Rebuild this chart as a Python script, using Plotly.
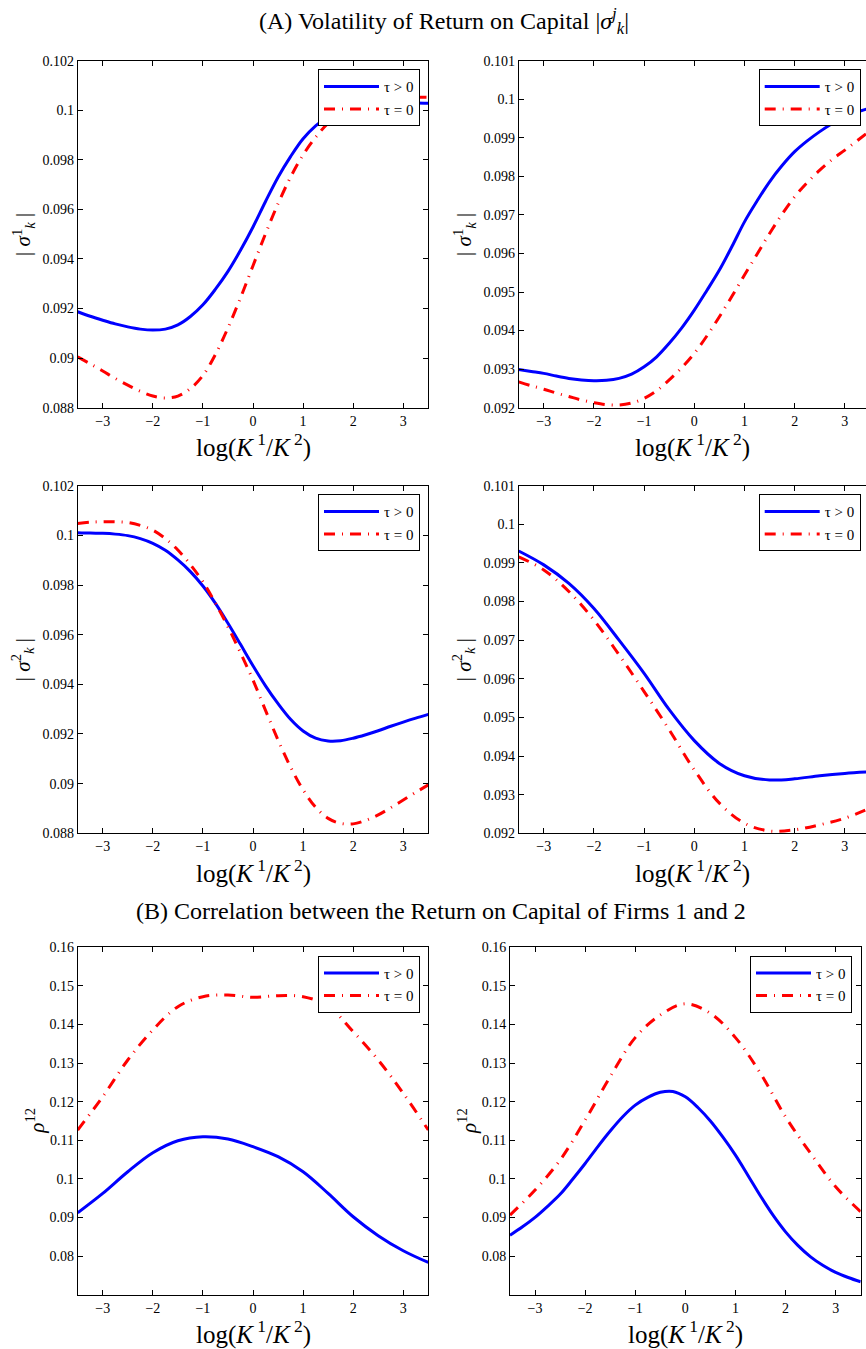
import plotly.graph_objects as go

# ---------------- data ----------------
x_half = [-3.5, -3.0, -2.5, -2.0, -1.5, -1.0, -0.5, 0.0, 0.5, 1.0, 1.5, 2.0, 2.5, 3.0, 3.5]
x_quarter = [-3.5, -3.25, -3.0, -2.75, -2.5, -2.25, -2.0, -1.75, -1.5, -1.25, -1.0, -0.75, -0.5, -0.25,
             0.0, 0.25, 0.5, 0.75, 1.0, 1.25, 1.5, 1.75, 2.0, 2.25, 2.5, 2.75, 3.0, 3.25, 3.5]

# Panel A, left: |sigma_k^1|  (quarter grid)
sig1_left_pos = [0.09187, 0.09169, 0.09153, 0.09138, 0.09126, 0.09117, 0.09113, 0.09117, 0.09134,
                 0.09168, 0.09215, 0.09278, 0.09350, 0.09435, 0.09529, 0.09632, 0.09730, 0.09813,
                 0.09885, 0.09937, 0.09975, 0.09999, 0.10013, 0.10022, 0.10027, 0.10028, 0.10029,
                 0.10029, 0.10028]
sig1_left_zero = [0.09005, 0.08977, 0.08948, 0.08918, 0.08891, 0.08866, 0.08847, 0.08839, 0.08847,
                  0.08877, 0.08930, 0.09015, 0.09122, 0.09243, 0.09373, 0.09502, 0.09623, 0.09730,
                  0.09820, 0.09891, 0.09948, 0.09988, 0.10015, 0.10032, 0.10043, 0.10048, 0.10051,
                  0.10052, 0.10052]
# Panel A, right: |sigma_k^1|  (quarter grid)
sig1_right_pos = [0.09299, 0.09294, 0.09289, 0.09282, 0.09276, 0.09272, 0.09270, 0.09271, 0.09276,
                  0.09287, 0.09306, 0.09332, 0.09367, 0.09407, 0.09453, 0.09504, 0.09557, 0.09618,
                  0.09682, 0.09736, 0.09786, 0.09828, 0.09864, 0.09892, 0.09916, 0.09937, 0.09955,
                  0.09967, 0.09977]
sig1_right_zero = [0.09267, 0.09257, 0.09248, 0.09238, 0.09229, 0.09220, 0.09213, 0.09208, 0.09207,
                   0.09212, 0.09224, 0.09244, 0.09272, 0.09304, 0.09341, 0.09386, 0.09436, 0.09489,
                   0.09544, 0.09598, 0.09652, 0.09702, 0.09747, 0.09784, 0.09816, 0.09844, 0.09868,
                   0.09893, 0.09918]
# Panel A, left: |sigma_k^2|  (quarter grid)
sig2_left_pos = [0.10011, 0.10009, 0.10008, 0.10005, 0.09999, 0.09987, 0.09968, 0.09940, 0.09901,
                 0.09854, 0.09796, 0.09726, 0.09646, 0.09561, 0.09475, 0.09394, 0.09322, 0.09259,
                 0.09212, 0.09183, 0.09172, 0.09173, 0.09183, 0.09197, 0.09213, 0.09231, 0.09248,
                 0.09264, 0.09279]
sig2_left_zero = [0.10048, 0.10053, 0.10055, 0.10055, 0.10052, 0.10040, 0.10021, 0.09987, 0.09941,
                  0.09882, 0.09813, 0.09727, 0.09632, 0.09527, 0.09417, 0.09295, 0.09176, 0.09067,
                  0.08975, 0.08905, 0.08860, 0.08840, 0.08838, 0.08852, 0.08874, 0.08903, 0.08934,
                  0.08965, 0.08995]
# Panel A, right: |sigma_k^2|  (half grid)
sig2_right_pos = [0.09931, 0.09895, 0.09847, 0.09782, 0.09700, 0.09614, 0.09520, 0.09440,
                  0.09381, 0.09349, 0.09338, 0.09341, 0.09349, 0.09355, 0.09359]
sig2_right_zero = [0.09916, 0.09882, 0.09826, 0.09752, 0.09662, 0.09567, 0.09468, 0.09364,
                   0.09278, 0.09226, 0.09206, 0.09209, 0.09222, 0.09239, 0.09265]
# Panel B, left: rho^12  (half grid)
rho_left_pos = [0.09123, 0.09624, 0.10186, 0.10678, 0.10989, 0.11093, 0.11033, 0.10834,
                0.10575, 0.10186, 0.09624, 0.09020, 0.08530, 0.08139, 0.07836]
rho_left_zero = [0.11266, 0.12130, 0.13080, 0.13858, 0.14462, 0.14721, 0.14765, 0.14704,
                 0.14748, 0.14721, 0.14480, 0.13814, 0.13080, 0.12216, 0.11266]
# Panel B, right: rho^12  (tau>0 on quarter grid, tau=0 on half grid)
rho_right_pos = [0.08542, 0.08760, 0.09004, 0.09290, 0.09600, 0.09990, 0.10399, 0.10830, 0.11240,
                 0.11610, 0.11910, 0.12110, 0.12243, 0.12265, 0.12126, 0.11850, 0.11500, 0.11080,
                 0.10615, 0.10090, 0.09556, 0.09060, 0.08628, 0.08270, 0.07980, 0.07755, 0.07578,
                 0.07445, 0.07333]
rho_right_zero = [0.09063, 0.09711, 0.10488, 0.11525, 0.12648, 0.13660, 0.14246, 0.14536,
                  0.14289, 0.13660, 0.12734, 0.11608, 0.10661, 0.09797, 0.09149]

series_names = ["τ > 0", "τ = 0"]

x_tickvals = [-3, -2, -1, 0, 1, 2, 3]
x_ticktext = ["−3", "−2", "−1", "0", "1", "2", "3"]

yA1_tickvals = [0.088, 0.090, 0.092, 0.094, 0.096, 0.098, 0.100, 0.102]
yA1_ticktext = ["0.088", "0.09", "0.092", "0.094", "0.096", "0.098", "0.1", "0.102"]
yA2_tickvals = [0.092, 0.093, 0.094, 0.095, 0.096, 0.097, 0.098, 0.099, 0.100, 0.101]
yA2_ticktext = ["0.092", "0.093", "0.094", "0.095", "0.096", "0.097", "0.098", "0.099", "0.1", "0.101"]
yB_tickvals = [0.08, 0.09, 0.10, 0.11, 0.12, 0.13, 0.14, 0.15, 0.16]
yB_ticktext = ["0.08", "0.09", "0.1", "0.11", "0.12", "0.13", "0.14", "0.15", "0.16"]

title_A = "(A) Volatility of Return on Capital |<i>σ</i><sup><i>j</i></sup><sub><i>k</i></sub>|"
title_B = "(B) Correlation between the Return on Capital of Firms 1 and 2"
x_title = "log(<i>K</i><sup> 1</sup>/<i>K</i><sup> 2</sup>)"
y_titles = ["| <i>σ</i><sup>1</sup><sub><i>k</i></sub> |", "| <i>σ</i><sup>1</sup><sub><i>k</i></sub> |",
            "| <i>σ</i><sup>2</sup><sub><i>k</i></sub> |", "| <i>σ</i><sup>2</sup><sub><i>k</i></sub> |",
            "<i>ρ</i><sup>12</sup>", "<i>ρ</i><sup>12</sup>"]

# ---------------- layout geometry ----------------
W, H = 866, 1349
FONT = "Liberation Serif"

def fx(px):
    return px / W

def fy(px):
    return 1 - px / H

panels = [
    dict(x=(77.7, 428.3), y=(60.7, 407.7), xmax=3.5, yr=[0.088, 0.102], tv=yA1_tickvals, tt=yA1_ticktext,
         xp=x_quarter, pos=sig1_left_pos, xz=x_quarter, zero=sig1_left_zero,
         leg=(420, 69.3), ysh=-55, mirror_y=True),
    dict(x=(518.7, 866.0), y=(60.7, 407.7), xmax=3.422, yr=[0.092, 0.101], tv=yA2_tickvals, tt=yA2_ticktext,
         xp=x_quarter, pos=sig1_right_pos, xz=x_quarter, zero=sig1_right_zero,
         leg=(860.7, 69.3), ysh=-55, mirror_y=False),
    dict(x=(77.7, 428.3), y=(485.7, 833.3), xmax=3.5, yr=[0.088, 0.102], tv=yA1_tickvals, tt=yA1_ticktext,
         xp=x_quarter, pos=sig2_left_pos, xz=x_quarter, zero=sig2_left_zero,
         leg=(420, 494.3), ysh=-55, mirror_y=True),
    dict(x=(518.7, 866.0), y=(485.7, 833.3), xmax=3.422, yr=[0.092, 0.101], tv=yA2_tickvals, tt=yA2_ticktext,
         xp=x_half, pos=sig2_right_pos, xz=x_half, zero=sig2_right_zero,
         leg=(860.7, 494.3), ysh=-55, mirror_y=False),
    dict(x=(77.7, 428.3), y=(947.3, 1294.7), xmax=3.5, yr=[0.07, 0.16], tv=yB_tickvals, tt=yB_ticktext,
         xp=x_half, pos=rho_left_pos, xz=x_half, zero=rho_left_zero,
         leg=(420, 955.7), ysh=-43, mirror_y=True),
    dict(x=(510.0, 860.7), y=(947.3, 1294.7), xmax=3.5, yr=[0.07, 0.16], tv=yB_tickvals, tt=yB_ticktext,
         xp=x_quarter, pos=rho_right_pos, xz=x_half, zero=rho_right_zero,
         leg=(852.0, 955.7), ysh=-43, mirror_y=True),
]

fig = go.Figure()
layout = dict(
    template="none",
    width=W, height=H, margin=dict(l=0, r=0, t=0, b=0, autoexpand=False),
    paper_bgcolor="white", plot_bgcolor="white",
    font=dict(family=FONT, size=14, color="black"),
    showlegend=True,
)
annotations = []

for i, p in enumerate(panels):
    n = i + 1
    xa = "x" if n == 1 else f"x{n}"
    ya = "y" if n == 1 else f"y{n}"
    leg = "legend" if n == 1 else f"legend{n}"
    fig.add_trace(go.Scatter(x=p["xp"], y=p["pos"], mode="lines", name=series_names[0],
                             line=dict(color="#0000ff", width=3, shape="spline", smoothing=1.0),
                             xaxis=xa, yaxis=ya, legend=leg))
    fig.add_trace(go.Scatter(x=p["xz"], y=p["zero"], mode="lines", name=series_names[1],
                             line=dict(color="#ff0000", width=3, shape="spline", smoothing=1.0,
                                       dash="11px,7px,1px,7px"),
                             xaxis=xa, yaxis=ya, legend=leg))
    xkey = "xaxis" if n == 1 else f"xaxis{n}"
    ykey = "yaxis" if n == 1 else f"yaxis{n}"
    layout[xkey] = dict(
        domain=[fx(p["x"][0]), fx(p["x"][1])], anchor=ya, range=[-3.5, p["xmax"]],
        tickvals=x_tickvals, ticktext=x_ticktext, ticks="inside", ticklen=5, tickwidth=1,
        tickcolor="black", showline=True, linecolor="black", linewidth=1, mirror="ticks",
        showgrid=False, zeroline=False, tickfont=dict(family=FONT, size=14), fixedrange=True,
        automargin=False,
    )
    layout[ykey] = dict(
        domain=[fy(p["y"][1]), fy(p["y"][0])], anchor=xa, range=p["yr"],
        tickvals=p["tv"], ticktext=p["tt"], ticks="inside", ticklen=5, tickwidth=1,
        tickcolor="black", showline=True, linecolor="black", linewidth=1,
        mirror="ticks" if p["mirror_y"] else False,
        showgrid=False, zeroline=False, tickfont=dict(family=FONT, size=14), fixedrange=True,
        automargin=False,
    )
    layout[leg] = dict(
        x=fx(p["leg"][0]), xanchor="right", y=fy(p["leg"][1]), yanchor="top",
        bordercolor="black", borderwidth=1, bgcolor="white",
        font=dict(family=FONT, size=15), itemwidth=55, tracegroupgap=0,
    )
    annotations.append(dict(
        text=x_title, xref=f"{xa} domain", yref=f"{ya} domain", x=0.5, y=0,
        yshift=-38, xanchor="center", yanchor="middle", showarrow=False,
        font=dict(family=FONT, size=25),
    ))
    annotations.append(dict(
        text=y_titles[i], xref=f"{xa} domain", yref=f"{ya} domain", x=0, y=0.5,
        xshift=p["ysh"], xanchor="center", yanchor="middle", showarrow=False, textangle=-90,
        font=dict(family=FONT, size=21),
    ))

annotations.append(dict(text=title_A, xref="paper", yref="paper", x=fx(444), y=fy(21),
                        xanchor="center", yanchor="middle", showarrow=False,
                        font=dict(family=FONT, size=24)))
annotations.append(dict(text=title_B, xref="paper", yref="paper", x=fx(441), y=fy(911),
                        xanchor="center", yanchor="middle", showarrow=False,
                        font=dict(family=FONT, size=24)))
layout["annotations"] = annotations
fig.update_layout(**layout)

fig.write_html("out.html", config={"displayModeBar": False},
               post_script="document.body.style.margin='0';")
